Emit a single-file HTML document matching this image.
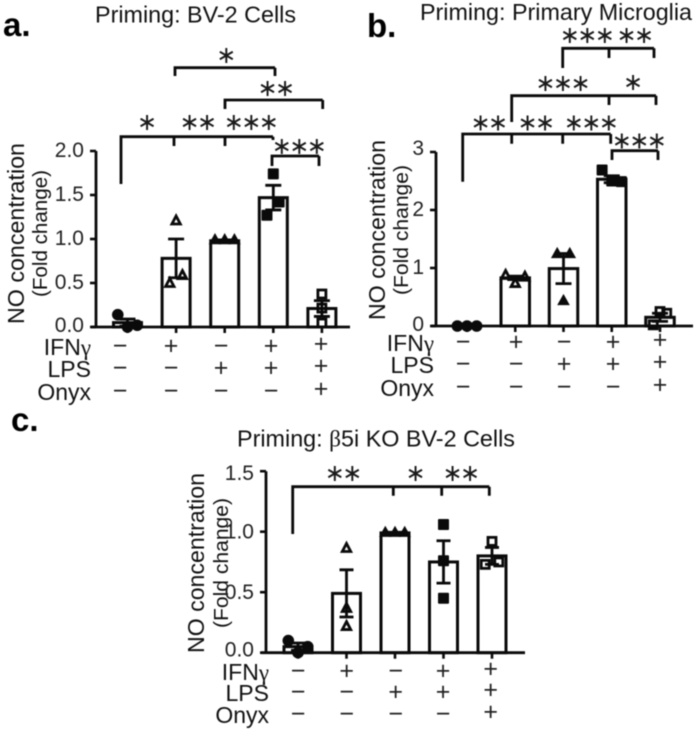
<!DOCTYPE html>
<html lang="en">
<head>
<meta charset="utf-8">
<title>NO concentration priming panels</title>
<style>
html,body{margin:0;padding:0;background:#fff;}
#figure{display:block;width:697px;height:733px;filter:blur(0.45px);}
text{font-family:"Liberation Sans",sans-serif;fill:#111;}
.letter{font-weight:bold;font-size:33px;fill:#000;}
.ylab{font-size:23.5px;}
.ylab2{font-size:20.5px;}
.title{font-size:23px;}
.rowlab{font-size:23px;text-anchor:end;}
.tick{font-size:21px;text-anchor:end;fill:#222;}
.sign{font-size:25px;text-anchor:middle;fill:#222;}
.star{font-family:"DejaVu Sans",sans-serif;font-size:24px;letter-spacing:-2.6px;text-anchor:middle;fill:#1a1a1a;}
.gam{font-family:"Liberation Serif",serif;}
</style>
</head>
<body>
<svg id="figure" xmlns="http://www.w3.org/2000/svg" width="697" height="733" viewBox="0 0 697 733">
  <rect width="697" height="733" fill="#fff"/>

  <text class="letter" x="3" y="36">a.</text>
  <text class="letter" x="367" y="37">b.</text>
  <text class="letter" x="11" y="431">c.</text>

  <text class="title" x="95" y="22.5" textLength="201" lengthAdjust="spacingAndGlyphs">Priming: BV-2 Cells</text>
  <text class="title" x="420" y="20" textLength="272" lengthAdjust="spacingAndGlyphs">Priming: Primary Microglia</text>
  <text class="title" x="237" y="446.5" textLength="278" lengthAdjust="spacingAndGlyphs">Priming: <tspan class="gam">β</tspan>5i KO BV-2 Cells</text>

  <text class="ylab" transform="translate(24,324) rotate(-90)" textLength="181" lengthAdjust="spacingAndGlyphs">NO concentration</text>
  <text class="ylab2" transform="translate(47,297) rotate(-90)" textLength="127" lengthAdjust="spacingAndGlyphs">(Fold change)</text>
  <text class="ylab" transform="translate(385,320) rotate(-90)" textLength="180" lengthAdjust="spacingAndGlyphs">NO concentration</text>
  <text class="ylab2" transform="translate(408,295) rotate(-90)" textLength="130" lengthAdjust="spacingAndGlyphs">(Fold change)</text>
  <text class="ylab" transform="translate(204,653) rotate(-90)" textLength="180" lengthAdjust="spacingAndGlyphs">NO concentration</text>
  <text class="ylab2" transform="translate(228,628) rotate(-90)" textLength="130" lengthAdjust="spacingAndGlyphs">(Fold change)</text>

  <text class="rowlab" x="91" y="355">IFN<tspan class="gam">γ</tspan></text>
  <text class="rowlab" x="91" y="377">LPS</text>
  <text class="rowlab" x="91" y="400">Onyx</text>
  <text class="rowlab" x="434" y="351">IFN<tspan class="gam">γ</tspan></text>
  <text class="rowlab" x="434" y="373">LPS</text>
  <text class="rowlab" x="434" y="396">Onyx</text>
  <text class="rowlab" x="269" y="680">IFN<tspan class="gam">γ</tspan></text>
  <text class="rowlab" x="269" y="701">LPS</text>
  <text class="rowlab" x="269" y="723">Onyx</text>
</svg>

<script>
// ---- data ----
const categories = ['control', 'ifn', 'lps', 'ifn-lps', 'ifn-lps-onyx'];
const markerShapes = ['circle', 'triangle-open', 'triangle', 'square', 'square-open'];

const signsIfn = ['−', '+', '−', '+', '+'];
const signsLps = ['−', '−', '+', '+', '+'];
const signsOnyx = ['−', '−', '−', '−', '+'];

const tickValuesA = [0, 0.5, 1, 1.5, 2];
const tickLabelsA = ['0.0', '0.5', '1.0', '1.5', '2.0'];
const meansA = [0.05, 0.78, 0.98, 1.47, 0.21];
const semsA = [0.04, 0.22, 0.01, 0.14, 0.09];
const pointsA = [[0.14, 0.0, 0.02], [1.21, 0.50, 0.59], [1.0, 1.0, 1.0], [1.74, 1.42, 1.27], [0.375, 0.215, 0.045]];
const jitterA = [[-0.2, 0, 0.2], [0, -0.13, 0.13], [-0.2, 0, 0.2], [0, 0.12, -0.13], [0, 0, 0]];

const tickValuesB = [0, 1, 2, 3];
const tickLabelsB = ['0', '1', '2', '3'];
const meansB = [0, 0.83, 0.99, 2.53, 0.15];
const semsB = [0.005, 0.03, 0.26, 0.06, 0.07];
const pointsB = [[0, 0, 0], [0.88, 0.74, 0.85], [1.26, 0.45, 1.26], [2.69, 2.5, 2.49], [0.25, 0.02, 0.22]];
const jitterB = [[-0.2, 0, 0.2], [-0.2, 0, 0.2], [-0.13, 0, 0.13], [-0.2, 0, 0.2], [0, -0.14, 0.14]];

const tickValuesC = [0, 0.5, 1, 1.5];
const tickLabelsC = ['0.0', '0.5', '1.0', '1.5'];
const meansC = [0.05, 0.49, 0.99, 0.75, 0.80];
const semsC = [0.03, 0.195, 0.005, 0.175, 0.07];
const pointsC = [[0.10, 0.0, 0.05], [0.865, 0.37, 0.22], [1.0, 1.0, 1.0], [1.06, 0.76, 0.45], [0.92, 0.73, 0.75]];
const jitterC = [[-0.2, 0, 0.2], [0, 0, 0], [-0.2, 0, 0.2], [0, 0, 0], [0, -0.14, 0.14]];

// ---- drawing ----
const svg = document.getElementById('figure');
const NS = 'http://www.w3.org/2000/svg';
function make(tag, attrs, parent) {
  const e = document.createElementNS(NS, tag);
  for (const k in attrs) e.setAttribute(k, attrs[k]);
  (parent || svg).appendChild(e);
  return e;
}

function drawBracket(panel, parent, b) {
  const d = 'M' + b.xs[0] + ' ' + b.drops[0] + 'V' + b.top + 'H' + b.xs[b.xs.length - 1] +
    b.xs.slice(1).map(function (x, i) { return 'M' + x + ' ' + b.top + 'V' + b.drops[i + 1]; }).join('');
  const el = make('path', {d: d, fill: 'none', stroke: '#0a0a0a', 'stroke-width': 2.8}, parent);
  
  
  b.stars.forEach(function (s) {
    const st = make('text', {class: 'star', x: s[0], y: s[1] + 8}, parent);
    st.textContent = s[2];
    
    
  });
}

function drawMarker(panel, parent, shape, cx, cy) {
  let m;
  if (shape === 'circle') {
    m = make('circle', {cx: cx, cy: cy, r: 5.8, fill: '#0a0a0a'}, parent);
  } else if (shape === 'square') {
    m = make('rect', {x: cx - 5.5, y: cy - 5.5, width: 11, height: 11, rx: 1, fill: '#0a0a0a'}, parent);
  } else if (shape === 'square-open') {
    m = make('rect', {x: cx - 4, y: cy - 4, width: 8, height: 8, fill: 'none', stroke: '#0a0a0a', 'stroke-width': 2.8}, parent);
  } else if (shape === 'triangle') {
    m = make('path', {d: 'M' + cx + ' ' + (cy - 6) + 'l6.3 11.2h-12.6z', fill: '#0a0a0a'}, parent);
  } else {
    m = make('path', {d: 'M' + cx + ' ' + (cy - 4.5) + 'l4.2 8h-8.4z', fill: 'none', stroke: '#0a0a0a', 'stroke-width': 2.8}, parent);
  }
  
  
}

function drawPanel(cfg) {
  const g = make('g', {});
  
  
  const xScale = function (i) { return cfg.x0 + cfg.dx * i; };
  const yScale = function (v) { return cfg.y0 - cfg.pxPerUnit * v; };

  // bars
  cfg.means.forEach(function (mean, i) {
    const bar = make('rect', {
      x: xScale(i) - cfg.barW / 2, y: yScale(mean), width: cfg.barW,
      height: Math.max(0, cfg.y0 - yScale(mean)), fill: '#fff', stroke: '#0a0a0a', 'stroke-width': 3
    }, g);
    
    
  });
  // error bars
  cfg.means.forEach(function (mean, i) {
    const x = xScale(i), hi = yScale(mean + cfg.sems[i]), lo = yScale(mean - cfg.sems[i]);
    const d = 'M' + x + ' ' + hi + 'V' + lo + 'M' + (x - cfg.cap) + ' ' + hi + 'H' + (x + cfg.cap) +
      'M' + (x - cfg.cap) + ' ' + lo + 'H' + (x + cfg.cap);
    const err = make('path', {d: d, fill: 'none', stroke: '#0a0a0a', 'stroke-width': 2.8}, g);
    
    
  });
  // points
  cfg.points.forEach(function (vals, i) {
    vals.forEach(function (v, j) {
      drawMarker(cfg.name, g, markerShapes[i], xScale(i + cfg.jitter[i][j]), yScale(v));
    });
  });
  // axes
  const yAxis = make('path', {d: 'M' + cfg.axisX + ' ' + (cfg.y0 + 1) + 'V' + yScale(cfg.tickValues[cfg.tickValues.length - 1]), fill: 'none', stroke: '#0a0a0a', 'stroke-width': 2.8}, g);
  
  
  const xAxis = make('path', {d: 'M' + (cfg.axisX - 5) + ' ' + cfg.y0 + 'H' + cfg.axisEnd, fill: 'none', stroke: '#0a0a0a', 'stroke-width': 2.8}, g);
  
  
  cfg.means.forEach(function (m, i) {
    const t = make('path', {d: 'M' + xScale(i) + ' ' + cfg.y0 + 'v6', stroke: '#0a0a0a', 'stroke-width': 2.6}, g);
    
    
  });
  cfg.tickValues.forEach(function (v, i) {
    const t = make('path', {d: 'M' + (cfg.axisX - 6) + ' ' + yScale(v) + 'H' + cfg.axisX, stroke: '#0a0a0a', 'stroke-width': 2.6}, g);
    
    
    const l = make('text', {class: 'tick', x: cfg.axisX - 12, y: yScale(v) + cfg.tickDy[i]}, g);
    l.textContent = cfg.tickLabels[i];
    
    
  });
  // treatment sign table
  [signsIfn, signsLps, signsOnyx].forEach(function (row, r) {
    row.forEach(function (s, c) {
      const nudge = (c === 4) ? -2 : 0;
      const t = make('text', {class: 'sign', x: cfg.signX[c], y: cfg.signY[r] + nudge}, g);
      t.textContent = s;
      
      
    });
  });
  cfg.brackets.forEach(function (b) { drawBracket(cfg.name, g, b); });
}

drawPanel({
  name: 'panel-a', means: meansA, sems: semsA, points: pointsA, jitter: jitterA,
  tickValues: tickValuesA, tickLabels: tickLabelsA, tickDy: [5, 6, 6, 6, 6],
  x0: 127.5, dx: 48.6, y0: 327, pxPerUnit: 88, barW: 28, cap: 8, axisX: 96, axisEnd: 350,
  signX: [120, 171, 221, 271, 321], signY: [354, 376, 399],
  brackets: [
    {top: 67.7, xs: [175, 275], drops: [76, 76], stars: [[225, 55, '∗']]},
    {top: 100, xs: [225, 322.7], drops: [109, 109], stars: [[275, 88, '∗∗']]},
    {top: 136.7, xs: [121, 174, 225, 273], drops: [184, 146, 146, 140], stars: [[145.7, 122, '∗'], [197, 122, '∗∗'], [250, 122, '∗∗∗']]},
    {top: 156, xs: [272, 319], drops: [166, 166], stars: [[298, 146, '∗∗∗']]}
  ]
});

drawPanel({
  name: 'panel-b', means: meansB, sems: semsB, points: pointsB, jitter: jitterB,
  tickValues: tickValuesB, tickLabels: tickLabelsB, tickDy: [5, 6, 6, 3],
  x0: 467, dx: 48.25, y0: 326, pxPerUnit: 58, barW: 28.5, cap: 8, axisX: 436, axisEnd: 693,
  signX: [463, 516, 564, 613, 660], signY: [350, 372, 395],
  brackets: [
    {top: 48.3, xs: [562.7, 609, 654], drops: [68, 58, 58], stars: [[586, 35, '∗∗∗'], [634, 35, '∗∗']]},
    {top: 95.7, xs: [511.7, 609, 656], drops: [122, 105, 105], stars: [[561.7, 83, '∗∗∗'], [631.7, 82, '∗']]},
    {top: 134, xs: [462.7, 511.7, 562.7, 610.7], drops: [181.7, 143.7, 143.7, 143.7], stars: [[488, 122.7, '∗∗'], [535, 122.7, '∗∗'], [590, 122.7, '∗∗∗']]},
    {top: 150.7, xs: [612, 658], drops: [160, 160], stars: [[638, 140.7, '∗∗∗']]}
  ]
});

drawPanel({
  name: 'panel-c', means: meansC, sems: semsC, points: pointsC, jitter: jitterC,
  tickValues: tickValuesC, tickLabels: tickLabelsC, tickDy: [4, 7, 7, 9],
  x0: 298, dx: 48.5, y0: 652.7, pxPerUnit: 121, barW: 28, cap: 7, axisX: 266, axisEnd: 525,
  signX: [298, 346.7, 395.7, 443, 490.7], signY: [679, 700, 722],
  brackets: [
    {top: 486.7, xs: [292.7, 393.3, 441.7, 489.3], drops: [534, 495.7, 495.7, 495.7], stars: [[342.3, 473, '∗∗'], [414.3, 473, '∗'], [460, 473, '∗∗']]}
  ]
});
</script>
</body>
</html>
